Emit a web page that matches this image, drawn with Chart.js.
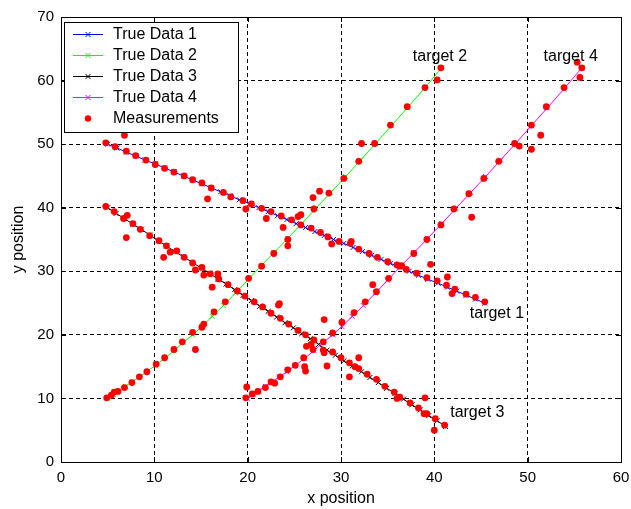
<!DOCTYPE html>
<html>
<head>
<meta charset="utf-8">
<script src="https://cdn.jsdelivr.net/npm/chart.js@4.4.0/dist/chart.umd.min.js"></script>
<style>
  body { margin: 0; background: #fff; }
  canvas { display: block; }
</style>
</head>
<body>
<canvas id="track" width="631" height="509"></canvas>
<script>
const FONT = "'Liberation Sans', Arial, Helvetica, sans-serif";

// target 1: straight run from (5,50) down to target 1
const true1X = [5.0, 6.0, 7.0, 8.0, 9.0, 10.1, 11.1, 12.1, 13.1, 14.1, 15.1, 16.1, 17.1, 18.1, 19.1, 20.2, 21.2, 22.2, 23.2, 24.2,
  25.2, 26.2, 27.2, 28.2, 29.2, 30.3, 31.3, 32.3, 33.3, 34.3, 35.3, 36.3, 37.3, 38.3, 39.3, 40.4, 41.4, 42.4, 43.4, 44.4, 45.4];
const true1Y = [50.0, 49.38, 48.75, 48.13, 47.5, 46.88, 46.25, 45.63, 45.0, 44.38, 43.75, 43.13, 42.5, 41.88, 41.25, 40.63, 40.0, 39.38, 38.75, 38.13,
  37.5, 36.88, 36.25, 35.63, 35.0, 34.38, 33.75, 33.13, 32.5, 31.88, 31.25, 30.63, 30.0, 29.38, 28.75, 28.13, 27.5, 26.88, 26.25, 25.63, 25.0];

// target 2: speeding up, bending upward
const true2X = [5.0, 5.6, 6.2, 6.9, 7.6, 8.4, 9.2, 10.1, 11.1, 12.1, 13.1, 14.1, 15.1, 16.2, 17.4, 18.7, 20.0, 21.4, 22.8, 24.3,
  25.8, 27.3, 28.9, 30.5, 32.1, 33.7, 35.4, 37.1, 38.9, 40.8];
const true2Y = [10.0, 10.6, 11.2, 11.9, 12.6, 13.4, 14.2, 15.2, 16.3, 17.5, 18.8, 20.0, 21.3, 22.9, 24.6, 26.6, 28.6, 30.8, 32.9, 35.2,
  37.5, 39.9, 42.4, 44.9, 47.5, 50.1, 52.9, 55.7, 58.7, 62.0];

// target 3: straight run from (5,40)
const true3X = [5.0, 5.9, 6.8, 7.7, 8.6, 9.5, 10.4, 11.3, 12.2, 13.1, 14.1, 15.0, 15.9, 16.8, 17.7, 18.6, 19.5, 20.4, 21.3, 22.2,
  23.1, 24.0, 24.9, 25.8, 26.7, 27.6, 28.5, 29.4, 30.3, 31.2, 32.2, 33.1, 34.0, 34.9, 35.8, 36.7, 37.6, 38.5, 39.4, 40.3, 41.2];
const true3Y = [40.0, 39.1, 38.3, 37.4, 36.6, 35.7, 34.8, 34.0, 33.1, 32.3, 31.4, 30.5, 29.7, 28.8, 28.0, 27.1, 26.2, 25.4, 24.5, 23.7,
  22.8, 21.9, 21.1, 20.2, 19.4, 18.5, 17.6, 16.8, 15.9, 15.1, 14.2, 13.3, 12.5, 11.6, 10.8, 9.9, 9.0, 8.2, 7.3, 6.5, 5.6];

// target 4: same manoeuvre as target 2, starting at (20,10)
const true4X = [20.0, 20.6, 21.2, 21.9, 22.6, 23.4, 24.2, 25.1, 26.1, 27.1, 28.1, 29.1, 30.1, 31.2, 32.4, 33.7, 35.0, 36.4, 37.8, 39.3,
  40.8, 42.3, 43.9, 45.5, 47.1, 48.7, 50.4, 52.1, 53.9, 55.8];
const true4Y = [10.0, 10.6, 11.2, 11.9, 12.6, 13.4, 14.2, 15.2, 16.3, 17.5, 18.8, 20.0, 21.3, 22.9, 24.6, 26.6, 28.6, 30.8, 32.9, 35.2,
  37.5, 39.9, 42.4, 44.9, 47.5, 50.1, 52.9, 55.7, 58.7, 62.0];

// noisy sensor returns (all targets together)
const measX = [
  4.8, 5.8, 7.0, 8.0, 9.1, 10.1, 11.1, 12.1, 13.2, 14.1, 6.8, 15.1, 15.7, 16.1, 17.4, 18.2, 19.5, 19.8, 20.4, 21.5,
  22.0, 22.5, 23.6, 23.8, 24.7, 25.4, 25.7, 25.7, 26.8, 27.8, 28.6, 29.0, 29.8, 31.0, 31.1, 31.9, 33.0, 33.9, 35.0, 36.0,
  36.3, 37.0, 38.1, 39.2, 39.6, 40.3, 41.3, 41.4, 41.9, 42.2, 43.4, 44.4, 45.4,
  4.9, 5.4, 5.7, 6.1, 6.8, 7.6, 8.4, 9.2, 10.2, 11.1, 12.1, 13.0, 14.1, 14.4, 15.1, 15.3, 16.4, 17.6, 18.9, 20.1,
  21.5, 22.8, 24.3, 24.3, 27.0, 27.7, 27.1, 28.7, 30.3, 31.9, 32.2, 33.6, 35.3, 37.1, 39.0, 40.3, 40.7,
  4.8, 5.7, 6.7, 7.1, 7.7, 8.5, 9.5, 7.0, 10.5, 11.3, 11.0, 11.7, 12.4, 13.2, 14.1, 14.4, 15.1, 15.3, 16.0, 16.2,
  16.8, 16.9, 17.9, 19.7, 20.7, 21.6, 22.5, 23.3, 23.4, 23.5, 24.4, 25.4, 26.2, 27.1, 28.1, 28.2, 29.1, 30.0, 30.9, 30.9,
  31.5, 31.9, 31.9, 32.8, 33.8, 34.7, 35.7, 36.0, 36.3, 37.4, 38.3, 39.0, 38.9, 39.2, 40.1, 40.0, 41.1,
  19.9, 19.8, 20.5, 21.1, 21.9, 22.5, 22.9, 23.5, 24.3, 25.1, 26.0, 26.1, 26.2, 26.3, 26.8, 27.0, 28.1, 28.2, 28.5, 29.1,
  30.1, 31.4, 32.6, 33.4, 33.8, 35.1, 36.5, 37.8, 39.2, 40.7, 42.1, 43.7, 44.0, 45.3, 46.9, 48.6, 49.1, 50.4, 50.4, 51.4,
  52.0, 53.9, 55.3, 55.6, 55.8];
const measY = [
  50.2, 49.6, 48.9, 48.2, 47.5, 46.8, 46.2, 45.6, 45.0, 44.4, 51.4, 43.9, 41.4, 43.1, 42.4, 41.7, 41.1, 39.8, 40.6, 39.9,
  38.3, 39.4, 38.7, 36.9, 38.1, 38.6, 38.9, 37.3, 36.8, 36.1, 35.4, 34.3, 34.7, 34.4, 34.7, 33.5, 32.8, 32.2, 31.5, 31.0,
  30.8, 30.3, 29.7, 29.0, 31.1, 28.5, 27.8, 29.1, 26.5, 27.2, 26.4, 25.9, 25.2,
  10.1, 10.5, 11.0, 11.1, 11.7, 12.5, 13.4, 14.2, 15.4, 16.4, 17.7, 18.9, 20.4, 17.7, 21.2, 21.7, 23.6, 25.2, 26.9, 28.9,
  30.8, 32.8, 35.0, 34.0, 41.6, 42.6, 39.8, 42.3, 44.6, 47.3, 50.1, 50.1, 53.0, 55.9, 58.9, 60.1, 62.0,
  40.2, 39.4, 38.3, 38.8, 37.5, 36.6, 35.6, 35.3, 34.8, 34.0, 32.2, 33.0, 33.2, 32.2, 31.3, 30.2, 30.6, 29.4, 29.6, 27.5,
  29.6, 28.8, 27.9, 26.1, 25.2, 24.4, 23.4, 24.7, 24.9, 22.6, 21.7, 20.7, 20.0, 19.2, 18.9, 22.4, 17.3, 16.4, 15.6, 13.4,
  15.0, 14.7, 16.4, 13.8, 13.0, 11.9, 11.0, 10.0, 10.2, 9.3, 8.5, 10.1, 7.6, 7.6, 6.8, 5.0, 5.8,
  11.8, 10.1, 10.7, 11.1, 11.7, 12.6, 12.4, 13.4, 14.5, 15.2, 16.4, 15.0, 14.3, 18.2, 18.5, 17.7, 17.6, 17.2, 15.1, 20.3,
  22.0, 23.5, 25.2, 27.9, 26.8, 28.9, 30.9, 32.8, 35.0, 37.3, 39.8, 42.2, 38.5, 44.6, 47.3, 50.1, 49.7, 53.0, 49.2, 51.4,
  55.9, 58.9, 62.9, 60.5, 62.0];

const seriesNames = ['True Data 1', 'True Data 2', 'True Data 3', 'True Data 4', 'Measurements'];
const targetNames = ['target 1', 'target 2', 'target 3', 'target 4'];
const targetTextX = [43.8, 37.7, 41.7, 51.7];
const targetTextY = [23.4, 63.7, 7.7, 63.8];

const pts = (xs, ys) => xs.map((x, i) => ({ x: x, y: ys[i] }));

function trueLine(name, xs, ys, color, order) {
  return {
    label: name,
    data: pts(xs, ys),
    showLine: true,
    borderColor: color,
    backgroundColor: color,
    borderWidth: 1,
    pointStyle: 'crossRot',
    pointRadius: 3.5,
    pointBorderWidth: 1,
    pointBorderColor: color,
    order: order
  };
}

const datasets = [
  trueLine(seriesNames[0], true1X, true1Y, '#0000ff', 4),
  trueLine(seriesNames[1], true2X, true2Y, '#00ff00', 3),
  trueLine(seriesNames[2], true3X, true3Y, '#000000', 2),
  trueLine(seriesNames[3], true4X, true4Y, '#ff00ff', 1),
  {
    label: seriesNames[4],
    data: pts(measX, measY),
    showLine: false,
    pointStyle: 'circle',
    pointRadius: 3.4,
    pointBorderWidth: 0,
    backgroundColor: '#ff0000',
    borderColor: '#ff0000',
    order: 0
  }
];

// box, inward ticks, legend, axis titles and target names drawn over the plot
const overlay = {
  id: 'overlay',
  afterDraw(chart) {
    const { ctx, chartArea: a, scales: { x, y } } = chart;
    ctx.save();
    ctx.strokeStyle = '#000';
    ctx.lineWidth = 1;
    ctx.strokeRect(a.left + 0.5, a.top + 0.5, a.right - a.left, a.bottom - a.top);

    ctx.beginPath();
    x.ticks.forEach(t => {
      const px = Math.round(x.getPixelForValue(t.value)) + 0.5;
      ctx.moveTo(px, a.bottom); ctx.lineTo(px, a.bottom - 5);
      ctx.moveTo(px, a.top); ctx.lineTo(px, a.top + 5);
    });
    y.ticks.forEach(t => {
      const py = Math.round(y.getPixelForValue(t.value)) + 0.5;
      ctx.moveTo(a.left, py); ctx.lineTo(a.left + 5, py);
      ctx.moveTo(a.right, py); ctx.lineTo(a.right - 5, py);
    });
    ctx.stroke();

    ctx.fillStyle = '#000';
    ctx.font = '16px ' + FONT;
    ctx.textBaseline = 'middle';
    ctx.textAlign = 'left';
    targetNames.forEach((t, i) => {
      ctx.fillText(t, x.getPixelForValue(targetTextX[i]), y.getPixelForValue(targetTextY[i]));
    });

    ctx.textAlign = 'center';
    ctx.fillText('x position', (a.left + a.right) / 2, 499);
    ctx.save();
    ctx.translate(19, (a.top + a.bottom) / 2);
    ctx.rotate(-Math.PI / 2);
    ctx.fillText('y position', 0, 0);
    ctx.restore();

    // legend
    const lx = 64, ly = 22, lw = 174, lh = 110;
    ctx.fillStyle = '#fff';
    ctx.fillRect(lx, ly, lw, lh);
    ctx.strokeStyle = '#000';
    ctx.strokeRect(lx + 0.5, ly + 0.5, lw, lh);
    ctx.textAlign = 'left';
    chart.data.datasets.forEach((ds, i) => {
      const ry = ly + 12.5 + i * 21;
      const mx = lx + 24;
      if (ds.showLine) {
        ctx.strokeStyle = ds.borderColor;
        ctx.lineWidth = 1;
        ctx.beginPath();
        ctx.moveTo(lx + 9, ry);
        ctx.lineTo(lx + 39, ry);
        ctx.moveTo(mx - 2.5, ry - 2.5);
        ctx.lineTo(mx + 2.5, ry + 2.5);
        ctx.moveTo(mx - 2.5, ry + 2.5);
        ctx.lineTo(mx + 2.5, ry - 2.5);
        ctx.stroke();
      } else {
        ctx.fillStyle = ds.backgroundColor;
        ctx.beginPath();
        ctx.arc(mx, ry, 3.2, 0, Math.PI * 2);
        ctx.fill();
      }
      ctx.fillStyle = '#000';
      ctx.fillText(ds.label, lx + 49, ry);
    });
    ctx.restore();
  }
};

const axisStyle = {
  type: 'linear',
  ticks: { stepSize: 10, color: '#000', font: { family: FONT, size: 15 } },
  grid: { color: '#000', lineWidth: 1, drawTicks: false },
  border: { display: true, color: '#000', dash: [4, 3] }
};

new Chart(document.getElementById('track'), {
  type: 'scatter',
  data: { datasets: datasets },
  plugins: [overlay],
  options: {
    responsive: false,
    animation: false,
    layout: { padding: { top: 17, right: 10, left: 0, bottom: 0 } },
    plugins: { legend: { display: false }, tooltip: { enabled: false } },
    scales: {
      x: Object.assign({}, axisStyle, {
        min: 0, max: 60,
        ticks: Object.assign({}, axisStyle.ticks, { padding: 7 }),
        afterFit: s => { s.height = 47; s.paddingLeft = 0; s.paddingRight = 0; }
      }),
      y: Object.assign({}, axisStyle, {
        min: 0, max: 70,
        ticks: Object.assign({}, axisStyle.ticks, { padding: 7 }),
        afterFit: s => { s.width = 61; s.paddingTop = 0; s.paddingBottom = 0; }
      })
    }
  }
});
</script>
</body>
</html>
